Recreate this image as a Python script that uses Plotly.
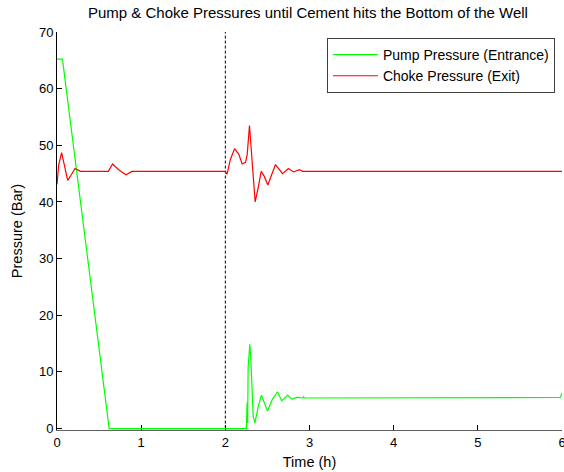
import plotly.graph_objects as go

# ---- data ----
pump_time = [0.0, 0.065, 0.62, 2.25, 2.259, 2.265, 2.271, 2.282, 2.291, 2.303, 2.319,
             2.331, 2.351, 2.39, 2.429, 2.465, 2.501, 2.56, 2.62, 2.67, 2.74, 2.79,
             2.85, 2.92, 2.93, 2.94, 5.98, 6.0]
pump_pressure = [65.2, 65.2, 0.0, 0.0, 4.6, 1.0, 10.8, 14.0, 14.9, 12.2, 7.8,
                 2.2, 1.0, 3.8, 5.9, 4.6, 3.1, 5.2, 6.5, 4.9, 5.9, 5.2,
                 5.5, 5.4, 5.6, 5.4, 5.5, 6.3]

choke_time = [0.0, 0.02, 0.055, 0.09, 0.127, 0.17, 0.214, 0.28, 0.61, 0.66, 0.74,
              0.82, 0.89, 2.0, 2.02, 2.06, 2.11, 2.16, 2.20, 2.24, 2.26, 2.287,
              2.307, 2.327, 2.354, 2.39, 2.426, 2.46, 2.505, 2.55, 2.596, 2.68,
              2.75, 2.81, 2.88, 2.92, 6.0]
choke_pressure = [43.1, 46.5, 48.7, 46.0, 43.8, 44.8, 45.9, 45.4, 45.4, 46.7, 45.6,
                  44.8, 45.4, 45.4, 44.9, 47.5, 49.4, 48.4, 46.7, 47.0, 48.4, 53.5,
                  49.0, 44.3, 40.0, 42.5, 45.4, 44.6, 43.0, 44.8, 46.6, 45.0,
                  45.9, 45.3, 45.7, 45.4, 45.4]

marker_time = [2.0, 2.0]
marker_range = [0, 70]

x_ticks = [0, 1, 2, 3, 4, 5, 6]
y_ticks = [0, 10, 20, 30, 40, 50, 60, 70]

FONT = "Liberation Sans, Arial, sans-serif"

fig = go.Figure()
fig.add_trace(go.Scatter(x=marker_time, y=marker_range, mode="lines",
                         line=dict(color="black", width=1, dash="3px,2px"),
                         showlegend=False, hoverinfo="skip"))
fig.add_trace(go.Scatter(x=pump_time, y=pump_pressure, mode="lines",
                         name="Pump Pressure (Entrance)",
                         line=dict(color="#00ff00", width=1.2)))
fig.add_trace(go.Scatter(x=choke_time, y=choke_pressure, mode="lines",
                         name="Choke Pressure (Exit)",
                         line=dict(color="#ff0000", width=1.2)))

fig.update_layout(
    width=564, height=472,
    margin=dict(l=57, r=2, t=32, b=42, autoexpand=False),
    paper_bgcolor="white", plot_bgcolor="white",
    font=dict(family=FONT, size=13, color="black"),
    title=dict(text="Pump & Choke Pressures until Cement hits the Bottom of the Well",
               x=0.546, xanchor="center", y=0.985, yanchor="top",
               font=dict(family=FONT, size=15, color="black")),
    legend=dict(x=0.986, xanchor="right", y=0.985, yanchor="top",
                bordercolor="#404040", borderwidth=1, bgcolor="white",
                font=dict(family=FONT, size=14, color="black"),
                itemwidth=45, tracegroupgap=0),
    xaxis=dict(range=[0, 6], tickvals=x_ticks, ticks="inside", ticklen=5,
               tickcolor="black", showline=True, linecolor="#606060", linewidth=1,
               showgrid=False, zeroline=False, layer="below traces",
               ticklabeloverflow="allow", automargin=False,
               title=dict(text="Time (h)", standoff=8,
                          font=dict(family=FONT, size=14.5, color="black")),
               tickfont=dict(family=FONT, size=13, color="black")),
    yaxis=dict(range=[-0.25, 70], tickvals=y_ticks, ticks="inside", ticklen=5,
               tickcolor="black", showline=True, linecolor="black", linewidth=1,
               showgrid=False, zeroline=False, layer="below traces",
               automargin=False,
               title=dict(text="Pressure (Bar)", standoff=12,
                          font=dict(family=FONT, size=14.5, color="black")),
               tickfont=dict(family=FONT, size=13, color="black")),
)

fig.write_html("out.html")
